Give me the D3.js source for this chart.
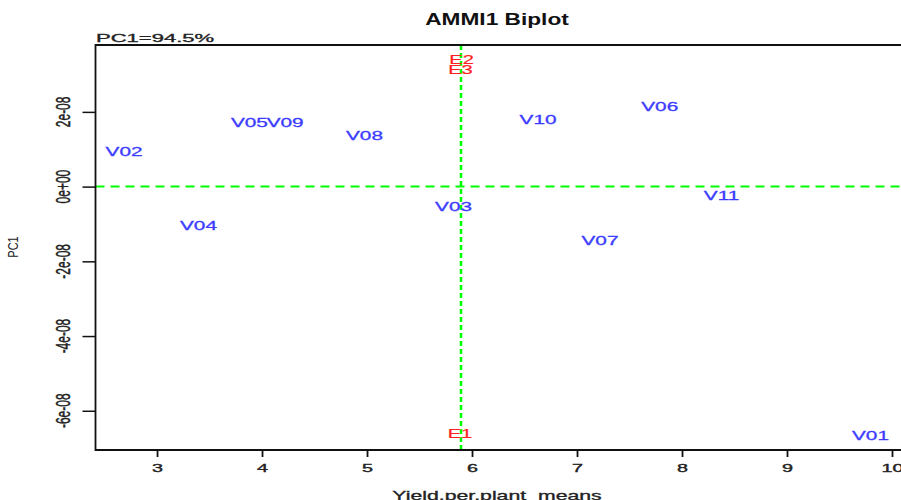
<!DOCTYPE html>
<html>
<head>
<meta charset="utf-8">
<script src="https://cdn.jsdelivr.net/npm/d3@7"></script>
<style>
  body { margin: 0; background: #fff; }
  text { font-family: "Liberation Sans", Arial, sans-serif; }
</style>
</head>
<body>
<script>
// genotypes
var genotypes = ["V01","V02","V03","V04","V05","V06","V07","V08","V09","V10","V11"];
var genoMean  = [9.795, 2.686, 5.824, 3.395, 3.880, 7.788, 7.219, 4.976, 4.220, 6.629, 8.376];
var genoPC1   = [-6.67e-8, 0.93e-8, -0.52e-8, -1.05e-8, 1.71e-8, 2.15e-8, -1.43e-8, 1.36e-8, 1.71e-8, 1.81e-8, -0.23e-8];

// environments
var envs    = ["E1","E2","E3"];
var envMean = [5.885, 5.90, 5.89];
var envPC1  = [-6.61e-8, 3.39e-8, 3.14e-8];

var grandMean = 5.895;

var xTicks = [3,4,5,6,7,8,9,10];
var yTicks = [-6e-8,-4e-8,-2e-8,0,2e-8];
var yTickLabels = ["-6e-08","-4e-08","-2e-08","0e+00","2e-08"];

var width = 901, height = 500;
var plot = {left: 95.5, right: 900.5, top: 45, bottom: 450};

var x = d3.scaleLinear()
  .domain([2.414, 10.081])
  .range([plot.left, plot.right]);

var y = d3.scaleLinear()
  .domain([-7.05e-8, 3.79e-8])
  .range([plot.bottom, plot.top]);

var svg = d3.select("body")
  .append("svg")
  .attr("width", width)
  .attr("height", height);

/* stretched text, the picture is wider than it is tall */
function stretch(sel, sx) {
  sel.each(function() {
    var t = d3.select(this);
    var px = +t.attr("x"), py = +t.attr("y");
    t.attr("x", 0).attr("y", 0)
     .attr("transform", "translate(" + px + "," + py + ") scale(" + sx + ",1)" + (t.attr("data-rot") ? " rotate(-90)" : ""));
  });
}

// reference lines
svg.append("line")
  .attr("x1", plot.left).attr("x2", width + 5)
  .attr("y1", y(0)).attr("y2", y(0))
  .style("stroke", "#00ff00")
  .style("stroke-width", 2)
  .style("stroke-dasharray", "9,6");

svg.append("line")
  .attr("x1", x(grandMean)).attr("x2", x(grandMean))
  .attr("y1", plot.top).attr("y2", plot.bottom)
  .style("stroke", "#00ff00")
  .style("stroke-width", 2.5)
  .style("stroke-dasharray", "5,3");

// frame (left, top, bottom; right side is off the page)
svg.append("path")
  .attr("d", "M" + (width + 5) + "," + plot.top + "H" + plot.left + "V" + plot.bottom + "H" + (width + 5))
  .style("fill", "none")
  .style("stroke", "#111")
  .style("stroke-width", 1.8);

// x axis
var xAxis = g => g
  .attr("transform", `translate(0,${plot.bottom})`)
  .call(d3.axisBottom(x)
    .tickValues(xTicks)
    .tickSize(7)
    .tickPadding(4)
    .tickFormat(d3.format("d")))
  .call(g => g.select(".domain").remove())
  .call(g => g.selectAll("line").style("stroke", "#111").style("stroke-width", 1.8))
  .call(g => g.selectAll("text")
    .attr("dy", 0)
    .attr("y", 22.5)
    .style("font-size", "11px")
    .style("fill", "#222")
    .style("stroke", "#222")
    .style("stroke-width", 0.35)
    .style("font-family", "Liberation Sans, Arial, sans-serif")
    .each(function() { d3.select(this).attr("x", 0); })
    .attr("transform", "scale(1.8,1)"));

svg.append("g").call(xAxis);

// y axis
var yAxis = g => g
  .attr("transform", `translate(${plot.left},0)`)
  .call(d3.axisLeft(y)
    .tickValues(yTicks)
    .tickSize(13)
    .tickFormat(""))
  .call(g => g.select(".domain").remove())
  .call(g => g.selectAll("line").style("stroke", "#111").style("stroke-width", 1.5));

svg.append("g").call(yAxis);

svg.append("g")
  .selectAll("text")
  .data(yTicks)
  .enter()
  .append("text")
  .attr("x", 62.5)
  .attr("y", d => y(d))
  .attr("data-rot", 1)
  .attr("dy", "0.35em")
  .style("text-anchor", "middle")
  .style("font-size", "12px")
  .style("fill", "#222")
  .style("stroke", "#222")
  .style("stroke-width", 0.3)
  .text((d, i) => yTickLabels[i])
  .call(stretch, 1.7);

// titles
svg.append("text")
  .attr("x", 497)
  .attr("y", 25)
  .style("text-anchor", "middle")
  .style("font-size", "16px")
  .style("font-weight", "bold")
  .style("fill", "#111")
  .text("AMMI1 Biplot")
  .call(stretch, 1.42);

svg.append("text")
  .attr("x", 96)
  .attr("y", 41.7)
  .style("text-anchor", "start")
  .style("font-size", "10.5px")
  .style("fill", "#222")
  .style("stroke", "#222")
  .style("stroke-width", 0.3)
  .text("PC1=94.5%")
  .call(stretch, 2.1);

svg.append("text")
  .attr("x", 497)
  .attr("y", 500)
  .style("text-anchor", "middle")
  .style("font-size", "12px")
  .style("fill", "#222")
  .style("stroke", "#222")
  .style("stroke-width", 0.3)
  .text("Yield.per.plant_means")
  .call(stretch, 1.77);

svg.append("text")
  .attr("x", 13)
  .attr("y", 247)
  .attr("data-rot", 1)
  .attr("dy", "0.35em")
  .style("text-anchor", "middle")
  .style("font-size", "11px")
  .style("fill", "#222")
  .text("PC1")
  .call(stretch, 1.3);

// genotype labels
svg.append("g")
  .selectAll("text")
  .data(genotypes)
  .enter()
  .append("text")
  .attr("x", (d, i) => x(genoMean[i]))
  .attr("y", (d, i) => y(genoPC1[i]))
  .attr("dy", "0.35em")
  .style("text-anchor", "middle")
  .style("font-size", "13px")
  .style("fill", "#3c3cff")
  .style("stroke", "#3c3cff")
  .style("stroke-width", 0.3)
  .text(d => d)
  .call(stretch, 1.6);

// environment labels
svg.append("g")
  .selectAll("text")
  .data(envs)
  .enter()
  .append("text")
  .attr("x", (d, i) => x(envMean[i]))
  .attr("y", (d, i) => y(envPC1[i]))
  .attr("dy", "0.35em")
  .style("text-anchor", "middle")
  .style("font-size", "13px")
  .style("fill", "#ff2020")
  .style("stroke", "#ff2020")
  .style("stroke-width", 0.2)
  .text(d => d)
  .call(stretch, 1.55);
</script>
</body>
</html>
